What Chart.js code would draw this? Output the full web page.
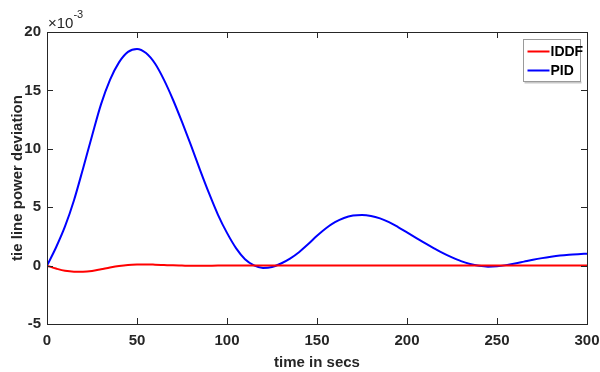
<!DOCTYPE html>
<html>
<head>
<meta charset="utf-8">
<script src="https://cdn.jsdelivr.net/npm/chart.js@4"></script>
<style>
  html, body { margin: 0; padding: 0; background: #fff; }
  #wrap { width: 600px; height: 372px; }
</style>
</head>
<body>
<div id="wrap"><canvas id="TieLine"></canvas></div>
<script>
// time axis (secs) and deviations (x10^-3)
const timeSecs = [0,5,10,15,20,25,30,35,40,45,50,55,60,65,70,75,80,85,90,95,
    100,105,110,115,120,125,130,135,140,145,150,155,160,165,170,175,180,185,190,195,
    200,205,210,215,220,225,230,235,240,245,250,255,260,265,270,275,280,285,290,295,300];
const pidDev = [0,1.55,3.35,5.6,8.3,11.1,13.8,15.9,17.4,18.3,18.55,18.2,17.3,15.9,14.2,12.3,10.3,8.2,6.2,4.35,
    2.8,1.5,0.55,0.02,-0.2,-0.12,0.18,0.6,1.15,1.82,2.55,3.2,3.72,4.08,4.28,4.33,4.25,4.04,3.72,3.3,
    2.84,2.38,1.92,1.48,1.06,0.7,0.38,0.14,-0.02,-0.09,-0.06,0.04,0.18,0.34,0.5,0.64,0.76,0.86,0.93,0.98,1.02];
const iddfDev = [0,-0.25,-0.45,-0.52,-0.52,-0.46,-0.32,-0.17,-0.04,0.05,0.09,0.1,0.08,0.05,0.02,0.0,-0.02,-0.02,-0.01,0,
    0,0,0,0,0,0,0,0,0,0,0,0,0,0,0,0,0,0,0,0,
    0,0,0,0,0,0,0,0,0,0,0,0,0,0,0,0,0,0,0,0,0];
const xTicks = [0, 50, 100, 150, 200, 250, 300];
const yTicks = [-5, 0, 5, 10, 15, 20];

const FONT = '"Liberation Sans", Arial, sans-serif';

// MATLAB style box, inward ticks, exponent and boxed legend
const matlabFrame = {
    id: 'matlabFrame',
    afterDatasetsDraw(chart) {
        const ctx = chart.ctx;
        const a = chart.chartArea;
        const xs = chart.scales.x, ys = chart.scales.y;
        ctx.save();
        ctx.strokeStyle = '#262626';
        ctx.lineWidth = 1;
        ctx.strokeRect(Math.round(a.left) + 0.5, Math.round(a.top) + 0.5,
            Math.round(a.right - a.left), Math.round(a.bottom - a.top));
        ctx.beginPath();
        xs.ticks.forEach((t, i) => {
            const px = Math.round(xs.getPixelForTick(i)) + 0.5;
            ctx.moveTo(px, a.bottom); ctx.lineTo(px, a.bottom - 6);
            ctx.moveTo(px, a.top); ctx.lineTo(px, a.top + 6);
        });
        ys.ticks.forEach((t, i) => {
            const py = Math.round(ys.getPixelForTick(i)) + 0.5;
            ctx.moveTo(a.left, py); ctx.lineTo(a.left + 6, py);
            ctx.moveTo(a.right, py); ctx.lineTo(a.right - 6, py);
        });
        ctx.stroke();

        // exponent label
        ctx.fillStyle = '#262626';
        ctx.textBaseline = 'alphabetic';
        ctx.textAlign = 'left';
        ctx.font = '15px ' + FONT;
        ctx.fillText('\u00d710', a.left + 1, a.top - 4);
        const w = ctx.measureText('\u00d710').width;
        ctx.font = '11px ' + FONT;
        ctx.fillText('-3', a.left + 1 + w, a.top - 14);

        // legend
        const lx = 523.5, ly = 39.5, lw = 57, lh = 42;
        ctx.fillStyle = '#c8c8c8';
        ctx.fillRect(lx + 1, ly + lh, lw, 2);
        ctx.fillStyle = '#fff';
        ctx.fillRect(lx, ly, lw, lh);
        ctx.strokeStyle = '#9a9a9a';
        ctx.strokeRect(lx, ly, lw, lh);
        ctx.font = 'bold 14px ' + FONT;
        ctx.textBaseline = 'middle';
        chart.data.datasets.forEach((ds, i) => {
            const y = ly + 12 + i * 19;
            ctx.strokeStyle = ds.borderColor;
            ctx.lineWidth = 2;
            ctx.beginPath();
            ctx.moveTo(lx + 4, y); ctx.lineTo(lx + 26, y);
            ctx.stroke();
            ctx.fillStyle = '#000';
            ctx.fillText(ds.label, lx + 27, y + 1);
        });
        ctx.restore();
    }
};

new Chart(document.getElementById('TieLine'), {
    type: 'line',
    plugins: [matlabFrame],
    data: {
        labels: timeSecs,
        datasets: [
            {
                label: 'IDDF',
                data: timeSecs.map((t, i) => ({x: t, y: iddfDev[i]})),
                borderColor: '#ff0000',
                borderWidth: 2,
                pointRadius: 0,
                cubicInterpolationMode: 'monotone',
            },
            {
                label: 'PID',
                data: timeSecs.map((t, i) => ({x: t, y: pidDev[i]})),
                borderColor: '#0000ff',
                borderWidth: 2,
                pointRadius: 0,
                cubicInterpolationMode: 'monotone',
            },
        ]
    },
    options: {
        responsive: true,
        maintainAspectRatio: false,
        animation: false,
        layout: { padding: { top: 32, right: 13, left: 0, bottom: 0 } },
        plugins: {
            legend: { display: false },
            tooltip: { enabled: false },
        },
        scales: {
            x: {
                type: 'linear',
                min: 0, max: 300,
                afterFit: s => { s.height = 48; s.paddingLeft = 0; s.paddingRight = 0; },
                afterBuildTicks: s => { s.ticks = xTicks.map(v => ({value: v})); },
                grid: { display: false, drawTicks: false },
                border: { display: false },
                ticks: {
                    color: '#262626',
                    padding: 8,
                    font: { family: FONT, size: 15, weight: 'bold' },
                },
                title: {
                    display: true,
                    text: 'time in secs',
                    color: '#262626',
                    padding: { top: 0, bottom: 0 },
                    font: { family: FONT, size: 15, weight: 'bold' },
                },
            },
            y: {
                min: -5, max: 20,
                afterFit: s => { s.width = 47; s.paddingTop = 0; s.paddingBottom = 0; },
                afterBuildTicks: s => { s.ticks = yTicks.map(v => ({value: v})); },
                grid: { display: false, drawTicks: false },
                border: { display: false },
                ticks: {
                    color: '#262626',
                    padding: 6,
                    font: { family: FONT, size: 15, weight: 'bold' },
                },
                title: {
                    display: true,
                    text: 'tie line power deviation',
                    color: '#262626',
                    padding: { top: 9, bottom: 0 },
                    font: { family: FONT, size: 15, weight: 'bold' },
                },
            },
        },
    },
});
</script>
</body>
</html>
